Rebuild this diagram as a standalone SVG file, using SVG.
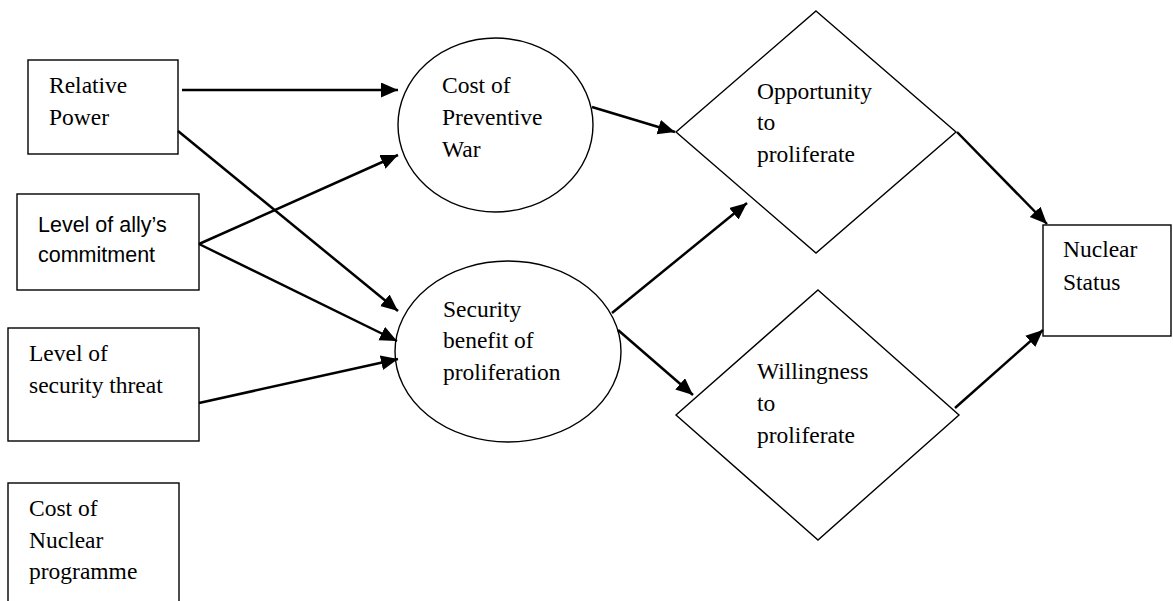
<svg xmlns="http://www.w3.org/2000/svg" width="1173" height="601" viewBox="0 0 1173 601">
  <style>
    .shape { fill: #ffffff; stroke: #000000; stroke-width: 1.4; }
    .serif { font-family: "Liberation Serif", "Times New Roman", serif; font-size: 23.5px; fill: #000000; }
    .sans { font-family: "Liberation Sans", Arial, sans-serif; font-size: 21.5px; fill: #000000; }
    .link { fill: none; stroke: #000000; stroke-width: 2.5; marker-end: url(#head); }
  </style>
  <defs>
    <marker id="head" markerUnits="userSpaceOnUse" markerWidth="18" markerHeight="16" refX="17" refY="7.5" orient="auto">
      <path d="M0,0 L17,7.5 L0,15 Z" fill="#000000"/>
    </marker>
  </defs>
  <rect width="1173" height="601" fill="#ffffff"/>

  <!-- input factors -->
  <g id="relative-power">
    <rect class="shape" x="28" y="60" width="150" height="94"/>
    <text class="serif" x="49" y="93">Relative</text>
    <text class="serif" x="49" y="125">Power</text>
  </g>
  <g id="ally-commitment">
    <rect class="shape" x="17" y="194" width="182" height="96"/>
    <text class="sans" x="38" y="232">Level of ally’s</text>
    <text class="sans" x="38" y="262">commitment</text>
  </g>
  <g id="security-threat">
    <rect class="shape" x="8" y="328" width="191" height="113"/>
    <text class="serif" x="29" y="361">Level of</text>
    <text class="serif" x="29" y="393">security threat</text>
  </g>
  <g id="programme-cost">
    <rect class="shape" x="8" y="483" width="171" height="140"/>
    <text class="serif" x="29" y="516">Cost of</text>
    <text class="serif" x="29" y="548">Nuclear</text>
    <text class="serif" x="29" y="579">programme</text>
  </g>

  <!-- intermediate factors -->
  <g id="preventive-war">
    <ellipse class="shape" cx="495.5" cy="125" rx="97.5" ry="87"/>
    <text class="serif" x="442" y="93">Cost of</text>
    <text class="serif" x="442" y="125">Preventive</text>
    <text class="serif" x="442" y="157">War</text>
  </g>
  <g id="security-benefit">
    <ellipse class="shape" cx="508" cy="351.5" rx="113" ry="90.5"/>
    <text class="serif" x="443" y="317">Security</text>
    <text class="serif" x="443" y="348">benefit of</text>
    <text class="serif" x="443" y="380">proliferation</text>
  </g>

  <!-- conditions -->
  <g id="opportunity">
    <polygon class="shape" points="816,11 956,132 816,253 676,132"/>
    <text class="serif" x="757" y="99">Opportunity</text>
    <text class="serif" x="757" y="130">to</text>
    <text class="serif" x="757" y="162">proliferate</text>
  </g>
  <g id="willingness">
    <polygon class="shape" points="818,290 959,415 818,540 676,415"/>
    <text class="serif" x="757" y="379">Willingness</text>
    <text class="serif" x="757" y="411">to</text>
    <text class="serif" x="757" y="443">proliferate</text>
  </g>

  <!-- outcome -->
  <g id="nuclear-status">
    <rect class="shape" x="1043" y="225" width="128" height="111"/>
    <text class="serif" x="1063" y="257">Nuclear</text>
    <text class="serif" x="1063" y="290">Status</text>
  </g>

  <g id="connectors">
    <line class="link" x1="182" y1="90" x2="398" y2="90"/>
    <line class="link" x1="178" y1="131" x2="398" y2="311"/>
    <line class="link" x1="199" y1="244" x2="398" y2="155"/>
    <line class="link" x1="199" y1="244" x2="397" y2="341"/>
    <line class="link" x1="199" y1="403" x2="398" y2="359"/>
    <line class="link" x1="592" y1="107" x2="675" y2="132"/>
    <line class="link" x1="612" y1="313" x2="747" y2="203"/>
    <line class="link" x1="618" y1="330" x2="693" y2="395"/>
    <line class="link" x1="957" y1="132" x2="1047" y2="224"/>
    <line class="link" x1="955" y1="408" x2="1043" y2="330"/>
  </g>
</svg>
